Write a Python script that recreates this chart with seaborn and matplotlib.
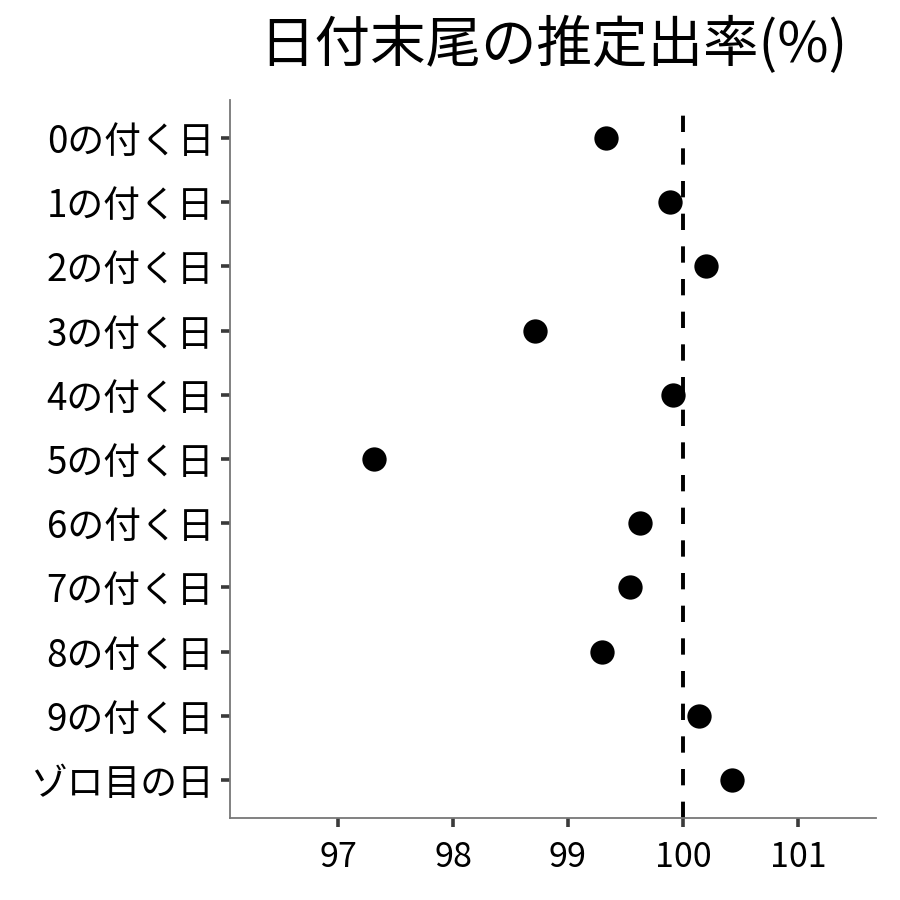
import matplotlib
matplotlib.use("Agg")
import matplotlib.pyplot as plt
import seaborn as sns
import pandas as pd

categories = ["0の付く日", "1の付く日", "2の付く日", "3の付く日", "4の付く日",
              "5の付く日", "6の付く日", "7の付く日", "8の付く日", "9の付く日", "ゾロ目の日"]
values = [99.33, 99.89, 100.20, 98.71, 99.91, 97.31, 99.63, 99.54, 99.30, 100.14, 100.43]
xticks = [97, 98, 99, 100, 101]
title = "日付末尾の推定出率(%)"

sns.set_theme(style="white")
plt.rcParams['font.family'] = ['Noto Sans CJK JP', 'DejaVu Sans']

df = pd.DataFrame({"cat": categories, "val": values})

fig = plt.figure(figsize=(9, 9), dpi=100)
ax = fig.add_axes([0.2556, 0.0911, 0.7177, 0.7978])

ax.axvline(100, color="black", linewidth=2.8, linestyle=(0, (4.2, 4.2)), zorder=1)
sns.stripplot(data=df, x="val", y="cat", order=categories, jitter=False,
              color="black", size=17.5, linewidth=0, ax=ax, zorder=3)

ax.set_xlim(96.06, 101.68)
ax.set_ylim(10.59, -0.59)
ax.set_xticks(xticks)
ax.set_xticklabels([str(t) for t in xticks])
ax.set_xlabel("")
ax.set_ylabel("")
for s in ["top", "right"]:
    ax.spines[s].set_visible(False)
for s in ["left", "bottom"]:
    ax.spines[s].set_color("#777777")
    ax.spines[s].set_linewidth(1.3)
ax.tick_params(axis="both", which="major", bottom=True, left=True, length=6.5, width=2.6,
               color="#3a3a3a", labelcolor="black", direction="out")
ax.tick_params(axis="x", labelsize=24.5, pad=9)
ax.tick_params(axis="y", labelsize=26.5, pad=5)
ax.set_title(title, fontsize=40, color="black", pad=27)

fig.savefig("out.png", dpi=100)
